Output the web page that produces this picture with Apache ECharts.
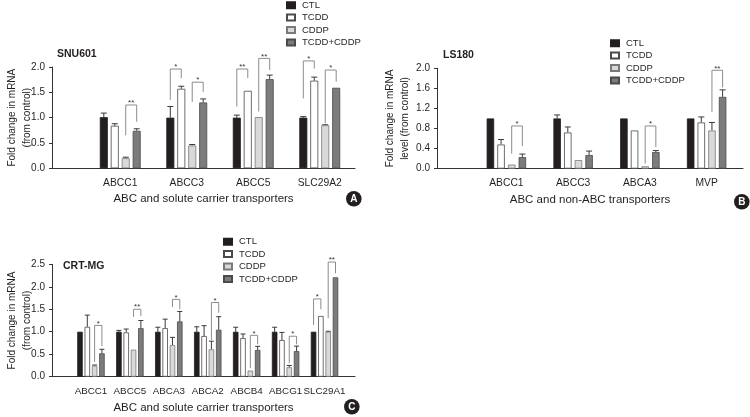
<!DOCTYPE html>
<html><head><meta charset="utf-8">
<script src="https://cdn.jsdelivr.net/npm/echarts@6/dist/echarts.min.js"></script>
<style>html,body{margin:0;padding:0;background:#fff}#c{width:750px;height:417px}</style>
</head><body><div id="c"></div>
<script>
const seriesNames = ['CTL', 'TCDD', 'CDDP', 'TCDD+CDDP'];

// ---- Panel A : SNU601 ----
const catsA = ['ABCC1', 'ABCC3', 'ABCC5', 'SLC29A2'];
const yTicksA = [0, 0.5, 1.0, 1.5, 2.0];
const ctlA = [1.01, 1.00, 1.00, 1.00];
const ctlErrA = [1.09, 1.22, 1.05, 1.02];
const tcddA = [0.84, 1.57, 1.53, 1.73];
const tcddErrA = [0.88, 1.62, null, 1.80];
const cddpA = [0.20, 0.45, 1.01, 0.85];
const cddpErrA = [0.22, 0.47, null, 0.86];
const comboA = [0.74, 1.30, 1.76, 1.59];
const comboErrA = [0.78, 1.37, 1.84, null];
// [category, left bar, right bar, top, left leg end, right leg end, mark]
const sigA = [
  [0, 2, 3, 1.25, 0.65, 0.92, '**'],
  [1, 0, 1, 1.96, 1.35, 1.78, '*'],
  [1, 2, 3, 1.70, 1.31, 1.51, '*'],
  [2, 0, 1, 1.96, 1.22, 1.78, '**'],
  [2, 2, 3, 2.17, 1.12, 1.94, '**'],
  [3, 0, 1, 2.12, 1.38, 1.97, '*'],
  [3, 2, 3, 1.94, 0.89, 1.71, '*']
];

// ---- Panel B : LS180 ----
const catsB = ['ABCC1', 'ABCC3', 'ABCA3', 'MVP'];
const yTicksB = [0, 0.4, 0.8, 1.2, 1.6, 2.0];
const ctlB = [1.00, 1.00, 1.00, 1.00];
const ctlErrB = [null, 1.07, null, null];
const tcddB = [0.48, 0.72, 0.76, 0.92];
const tcddErrB = [0.58, 0.83, null, 1.03];
const cddpB = [0.08, 0.17, 0.045, 0.76];
const cddpErrB = [null, null, null, 0.92];
const comboB = [0.23, 0.27, 0.33, 1.43];
const comboErrB = [0.29, 0.35, 0.36, 1.57];
const sigB = [
  [0, 2, 3, 0.85, 0.30, 0.45, '*'],
  [2, 2, 3, 0.85, 0.10, 0.43, '*'],
  [3, 2, 3, 1.96, 1.13, 1.62, '**']
];

// ---- Panel C : CRT-MG ----
const catsC = ['ABCC1', 'ABCC5', 'ABCA3', 'ABCA2', 'ABCB4', 'ABCG1', 'SLC29A1'];
const yTicksC = [0, 0.5, 1.0, 1.5, 2.0, 2.5];
const ctlC = [1.00, 1.00, 1.00, 1.00, 1.00, 1.00, 1.00];
const ctlErrC = [null, 1.03, 1.10, 1.11, 1.10, 1.10, null];
const tcddC = [1.11, 0.985, 1.08, 0.905, 0.86, 0.815, 1.35];
const tcddErrC = [1.37, 1.06, 1.28, 1.135, 0.95, 0.985, null];
const cddpC = [0.245, 0.60, 0.705, 0.61, 0.135, 0.21, 1.00];
const cddpErrC = [0.26, null, 0.875, 0.79, null, 0.25, 1.01];
const comboC = [0.52, 1.08, 1.23, 1.045, 0.595, 0.57, 2.21];
const comboErrC = [0.61, 1.25, 1.45, 1.335, 0.675, 0.68, null];
const sigC = [
  [0, 2, 3, 1.14, 0.33, 0.68, '*'],
  [1, 2, 3, 1.50, 1.33, 1.35, '**'],
  [2, 2, 3, 1.72, 1.55, 1.50, '*'],
  [3, 2, 3, 1.65, 0.82, 1.42, '*'],
  [4, 2, 3, 0.92, 0.19, 0.72, '*'],
  [5, 2, 3, 0.90, 0.30, 0.72, '*'],
  [6, 0, 1, 1.73, 1.15, 1.50, '*'],
  [6, 2, 3, 2.55, 1.30, 2.30, '**']
];

const FONT = '"Liberation Sans", Arial, sans-serif';
const TXT = '#231f20';
const barStyles = [
  { color: '#231f20', borderColor: '#231f20', borderWidth: 0.8 },
  { color: '#ffffff', borderColor: '#4a4a4a', borderWidth: 0.8 },
  { color: '#d9d9d9', borderColor: '#7a7a7a', borderWidth: 0.8 },
  { color: '#7c7c7c', borderColor: '#4a4a4a', borderWidth: 0.8 }
];

const panels = [
  { cats: catsA, ticks: yTicksA, vals: [ctlA, tcddA, cddpA, comboA], errs: [ctlErrA, tcddErrA, cddpErrA, comboErrA], sig: sigA,
    outer: { left: 52, top: 67, width: 303, height: 101.3 }, inner: { left: 87, width: 266 },
    barWidth: 8, barGap: 0.37, cap: 3, catFont: 10.3,
    xName: 'ABC and solute carrier transporters', yName: 'Fold change in mRNA\n(from control)', yNameGap: 17.5 },
  { cats: catsB, ticks: yTicksB, vals: [ctlB, tcddB, cddpB, comboB], errs: [ctlErrB, tcddErrB, cddpErrB, comboErrB], sig: sigB,
    outer: { left: 437, top: 68.3, width: 306, height: 100.3 }, inner: { left: 473, width: 267 },
    barWidth: 7.5, barGap: 0.42, cap: 3, catFont: 10.3,
    xName: 'ABC and non-ABC transporters', yName: 'Fold change in mRNA\nlevel (from control)', yNameGap: 24.5 },
  { cats: catsC, ticks: yTicksC, vals: [ctlC, tcddC, cddpC, comboC], errs: [ctlErrC, tcddErrC, cddpErrC, comboErrC], sig: sigC,
    outer: { left: 52, top: 264.3, width: 303, height: 112.4 }, inner: { left: 71.5, width: 272.5 },
    barWidth: 5.5, barGap: 0.33, cap: 2.5, catFont: 9.8,
    xName: 'ABC and solute carrier transporters', yName: 'Fold change in mRNA\n(from control)', yNameGap: 17.5 }
];

const grid = [], xAxis = [], yAxis = [], series = [];

panels.forEach((p, pi) => {
  const go = pi * 2, gi = pi * 2 + 1;
  const yMin = p.ticks[0], yMax = p.ticks[p.ticks.length - 1], yInt = p.ticks[1] - p.ticks[0];
  grid.push({ left: p.outer.left, top: p.outer.top, width: p.outer.width, height: p.outer.height });
  grid.push({ left: p.inner.left, top: p.outer.top, width: p.inner.width, height: p.outer.height });

  xAxis.push({ gridIndex: go, type: 'value', min: 0, max: 1,
    axisLine: { show: true, onZero: false, lineStyle: { color: '#333', width: 1 } },
    axisTick: { show: false }, axisLabel: { show: false }, splitLine: { show: false },
    name: p.xName, nameLocation: 'middle', nameGap: 25, nameMoveOverlap: false,
    nameTextStyle: { fontFamily: FONT, fontSize: 11.5, color: TXT } });
  xAxis.push({ gridIndex: gi, type: 'category', data: p.cats, boundaryGap: true,
    axisLine: { show: false }, axisTick: { show: false }, splitLine: { show: false },
    axisLabel: { fontFamily: FONT, fontSize: p.catFont, color: TXT, margin: 10, interval: 0 } });

  yAxis.push({ gridIndex: go, type: 'value', min: yMin, max: yMax, interval: yInt,
    axisLine: { show: true, lineStyle: { color: '#333', width: 1 } },
    axisTick: { show: true, length: 3, lineStyle: { color: '#333' } },
    splitLine: { show: false },
    axisLabel: { fontFamily: FONT, fontSize: 10, color: TXT, margin: 7, formatter: v => v.toFixed(1) },
    name: p.yName, nameLocation: 'middle', nameRotate: 90, nameGap: p.yNameGap, nameMoveOverlap: false,
    nameTextStyle: { fontFamily: FONT, fontSize: 10, color: TXT, lineHeight: 15 } });
  yAxis.push({ gridIndex: gi, type: 'value', min: yMin, max: yMax, interval: yInt, show: false, splitLine: { show: false } });

  const stride = p.barWidth * (1 + p.barGap);
  const off = bi => (bi - 1.5) * stride;

  p.vals.forEach((vals, si) => {
    series.push({ type: 'bar', name: seriesNames[si], xAxisIndex: gi, yAxisIndex: gi,
      data: vals, barWidth: p.barWidth, barGap: (p.barGap * 100) + '%',
      itemStyle: barStyles[si], emphasis: { disabled: true }, z: 2 });
  });

  // error bars
  const errData = [];
  p.errs.forEach((errs, si) => errs.forEach((e, ci) => {
    if (e !== null) errData.push([ci, si, p.vals[si][ci], e]);
  }));
  series.push({ type: 'custom', xAxisIndex: gi, yAxisIndex: gi, clip: false, z: 1, silent: true,
    encode: { x: 0, y: [2, 3] }, data: errData,
    renderItem: (params, api) => {
      const c = api.value(0), si = api.value(1);
      const a = api.coord([c, api.value(2)]), b = api.coord([c, api.value(3)]);
      const x = a[0] + off(si);
      const st = { stroke: '#3a3a3a', lineWidth: 1 };
      return { type: 'group', children: [
        { type: 'line', shape: { x1: x, y1: a[1], x2: x, y2: b[1] }, style: st },
        { type: 'line', shape: { x1: x - p.cap, y1: b[1], x2: x + p.cap, y2: b[1] }, style: st }
      ] };
    } });

  // significance brackets
  series.push({ type: 'custom', xAxisIndex: gi, yAxisIndex: gi, clip: false, z: 3, silent: true,
    encode: { x: 0, y: 3 }, data: p.sig.map(s => s.slice(0, 6)),
    renderItem: (params, api) => {
      const c = api.value(0), l = api.value(1), r = api.value(2);
      const top = api.coord([c, api.value(3)]);
      const lb = api.coord([c, api.value(4)]);
      const rb = api.coord([c, api.value(5)]);
      const xl = top[0] + off(l), xr = top[0] + off(r);
      return { type: 'group', children: [
        { type: 'polyline', shape: { points: [[xl, lb[1]], [xl, top[1]], [xr, top[1]], [xr, rb[1]]] },
          style: { stroke: '#8c8c8c', lineWidth: 1, fill: null } },
        { type: 'text', style: { text: p.sig[params.dataIndex][6], x: (xl + xr) / 2, y: top[1] - 2,
          align: 'center', verticalAlign: 'middle', fill: '#333', font: '8px "Liberation Sans", sans-serif' } }
      ] };
    } });
});

const legendBase = { orient: 'vertical', itemWidth: 8, itemHeight: 6, itemGap: 0, data: seriesNames,
  textStyle: { fontFamily: FONT, fontSize: 9.5, lineHeight: 12.4, color: TXT, padding: [0, 0, 0, 2] }, selectedMode: false, icon: 'rect' };

const badge = (letter, left, top) => ({ type: 'group', left, top, children: [
  { type: 'circle', shape: { cx: 8, cy: 8, r: 7.8 }, style: { fill: '#231f20' } },
  { type: 'text', style: { text: letter, x: 8, y: 8.5, align: 'center', verticalAlign: 'middle', fill: '#fff', font: 'bold 10px "Liberation Sans", sans-serif' } }
] });

const titleStyle = { fontFamily: FONT, fontSize: 10.5, fontWeight: 'bold', color: TXT };

const option = {
  animation: false,
  backgroundColor: '#fff',
  title: [
    { text: 'SNU601', left: 57, top: 49, padding: 0, textStyle: titleStyle },
    { text: 'LS180', left: 443, top: 50, padding: 0, textStyle: titleStyle },
    { text: 'CRT-MG', left: 63, top: 261, padding: 0, textStyle: titleStyle }
  ],
  legend: [
    Object.assign({}, legendBase, { left: 286, top: -1, padding: 0 }),
    Object.assign({}, legendBase, { left: 610, top: 37, padding: 0 }),
    Object.assign({}, legendBase, { left: 223, top: 235.5, padding: 0 })
  ],
  grid, xAxis, yAxis, series,
  graphic: [badge('A', 346, 191), badge('B', 734, 194), badge('C', 344, 399)]
};

const chart = echarts.init(document.getElementById('c'), null, { renderer: 'canvas' });
chart.setOption(option);
</script>
</body></html>
